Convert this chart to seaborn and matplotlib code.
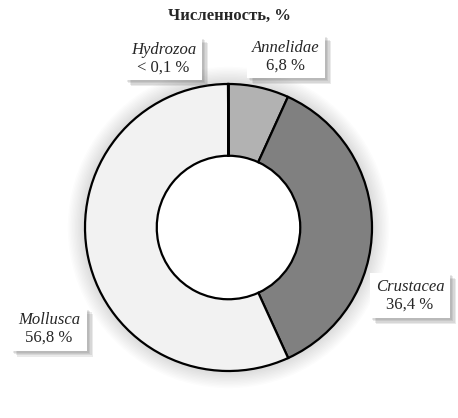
import matplotlib
matplotlib.use("Agg")
import matplotlib.pyplot as plt
import matplotlib.patheffects as pe
from matplotlib.patches import Wedge, FancyBboxPatch
import seaborn as sns

# data
taxa = ["Annelidae", "Crustacea", "Mollusca", "Hydrozoa"]
shares = [6.8, 36.4, 56.8, 0.05]
share_labels = ["6,8 %", "36,4 %", "56,8 %", "< 0,1 %"]
colors = ["#b2b2b2", "#808080", "#f2f2f2", "#ffffff"]

sns.set_style("white")
plt.rcParams["font.family"] = ["Liberation Serif", "DejaVu Serif"]

W, H = 458, 418
fig = plt.figure(figsize=(W / 100, H / 100), dpi=100)
cx, cy, R = 228.5, 227.5, 143.5
ax = fig.add_axes([(cx - R) / W, (H - cy - R) / H, 2 * R / W, 2 * R / H])


def to_data(px, py):
    return (px - cx) / R, (cy - py) / R


# soft glow around the ring
for k in range(12):
    r = 1.0 + 0.01 * (k + 1)
    ax.add_patch(Wedge((0, 0), r, 0, 360, width=r - 0.99, color="black",
                       alpha=0.012, lw=0, zorder=0, clip_on=False))

wedges = ax.pie(shares, colors=colors, startangle=90, counterclock=False,
                radius=1.0,
                wedgeprops=dict(width=0.5, edgecolor="black", linewidth=1.6))[0]
for w in wedges:
    w.set_zorder(2)

ax.set_xlim(-1, 1)
ax.set_ylim(-1, 1)
ax.set_aspect("equal")
ax.axis("off")

# soft drop shadow for the label boxes
soft_shadow = [pe.SimplePatchShadow(offset=(o, -o), shadow_rgbFace="#555555",
                                    alpha=0.12) for o in (4.5, 3.5, 2.5, 1.5)]
soft_shadow.append(pe.Normal())

# label boxes: centre and size in pixels
label_box = {
    "Annelidae": (286, 56.5, 78, 43),
    "Crustacea": (410, 295.5, 80, 45),
    "Mollusca": (49, 329, 76, 43),
    "Hydrozoa": (163.5, 58.5, 77, 43),
}
for name, lab in zip(taxa, share_labels):
    bx, by, bw, bh = label_box[name]
    x0, y0 = to_data(bx - bw / 2, by + bh / 2)
    box = FancyBboxPatch((x0, y0), bw / R, bh / R, boxstyle="square,pad=0",
                         fc="white", ec="none", clip_on=False, zorder=5)
    box.set_path_effects(soft_shadow)
    ax.add_patch(box)
    ax.text(*to_data(bx, by - 8.5), name, ha="center", va="center",
            fontsize=12, style="italic", clip_on=False, zorder=6)
    ax.text(*to_data(bx, by + 9), lab, ha="center", va="center",
            fontsize=12, clip_on=False, zorder=6)

fig.text(0.5, 1 - 16 / H, "Численность, %", ha="center", va="center",
         fontsize=12, fontweight="bold")

fig.savefig("out.png", dpi=100)
